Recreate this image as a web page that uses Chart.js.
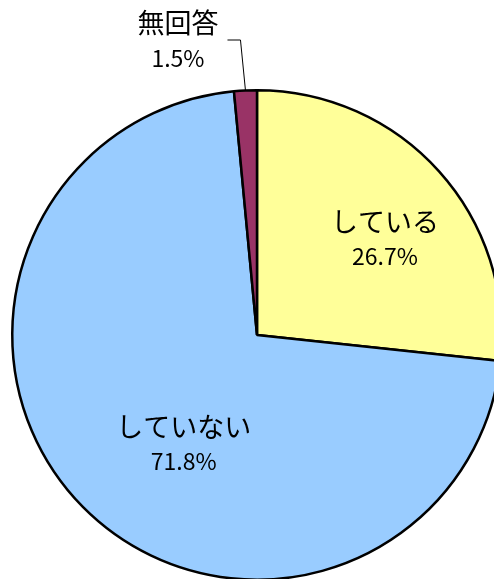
<!DOCTYPE html>
<html lang="ja">
<head>
  <meta charset="UTF-8">
  <title>円グラフ</title>
  <script src="https://cdn.jsdelivr.net/npm/chart.js"></script>
  <style>
    body {
      margin: 0;
      background: #fff;
    }
    .wrap {
      width: 494px;
      height: 579px;
      overflow: hidden;
      position: relative;
    }
    canvas {
      display: block;
    }
  </style>
</head>
<body>
  <div class="wrap">
    <canvas id="pieChart" width="520" height="600"></canvas>
  </div>

  <script>
    const categories = ['している', 'していない', '無回答'];
    const values = [26.7, 71.8, 1.5];
    const sliceColors = ['#FFFF99', '#99CCFF', '#993366'];

    // label placement per slice: angle (deg, canvas coords) and radius fraction
    const labelPos = [
      { angle: -37, frac: 0.655 },
      { angle: 124, frac: 0.535 },
      null
    ];

    const labelPlugin = {
      id: 'pieLabels',
      afterDraw(chart) {
        const ctx = chart.ctx;
        const arcs = chart.getDatasetMeta(0).data;
        ctx.save();
        ctx.fillStyle = '#000';
        ctx.textAlign = 'center';
        ctx.textBaseline = 'middle';

        arcs.forEach((arc, i) => {
          const name = categories[i];
          const pct = values[i].toFixed(1) + '%';
          let x, y;
          if (labelPos[i]) {
            const a = labelPos[i].angle * Math.PI / 180;
            x = arc.x + arc.outerRadius * labelPos[i].frac * Math.cos(a);
            y = arc.y + arc.outerRadius * labelPos[i].frac * Math.sin(a);
          } else {
            // small slice: label outside with leader line
            const mid = (arc.startAngle + arc.endAngle) / 2;
            const sx = arc.x + arc.outerRadius * Math.cos(mid);
            const sy = arc.y + arc.outerRadius * Math.sin(mid);
            ctx.strokeStyle = '#000';
            ctx.lineWidth = 1;
            ctx.beginPath();
            ctx.moveTo(sx, sy);
            ctx.lineTo(sx - 5, 40);
            ctx.lineTo(sx - 18, 40);
            ctx.stroke();
            x = 178;
            y = 40;
          }
          ctx.font = '27px "Noto Sans CJK JP", sans-serif';
          ctx.fillText(name, x, y - 17);
          ctx.font = '23px "Noto Sans CJK JP", sans-serif';
          ctx.fillText(pct, x, y + 18);
        });
        ctx.restore();
      }
    };

    new Chart(document.getElementById('pieChart'), {
      type: 'pie',
      data: {
        labels: categories,
        datasets: [{
          data: values,
          backgroundColor: sliceColors,
          borderColor: '#000',
          borderWidth: 2.5
        }]
      },
      options: {
        responsive: false,
        animation: false,
        devicePixelRatio: 1,
        layout: {
          padding: { left: 11, top: 89, right: 17, bottom: 19 }
        },
        plugins: {
          legend: { display: false },
          tooltip: { enabled: false }
        }
      },
      plugins: [labelPlugin]
    });
  </script>
</body>
</html>
